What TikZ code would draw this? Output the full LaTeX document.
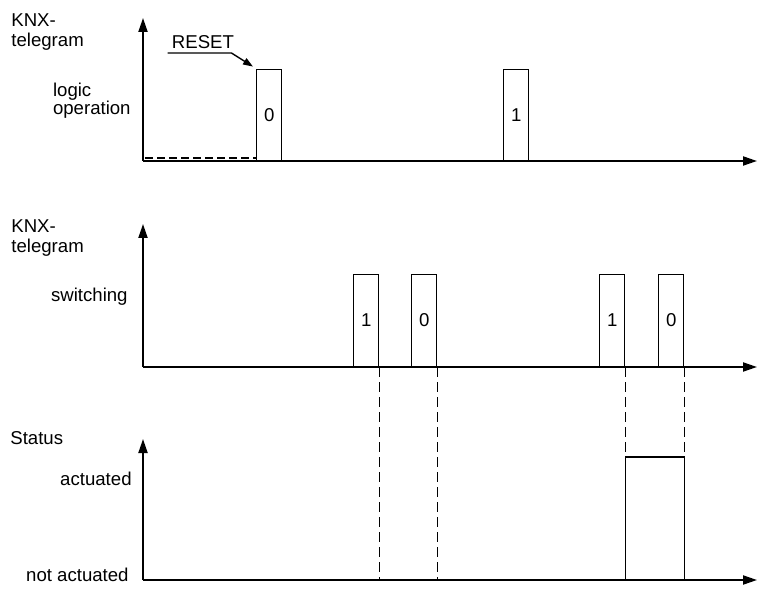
\documentclass[tikz,border=0pt]{standalone}
\usepackage{fontspec}
\setmainfont{Liberation Sans}
\usetikzlibrary{arrows.meta,positioning,calc}

\tikzset{
  axis/.style={line width=1pt,-{Triangle[length=7pt,width=4.5pt]}},
  pulse/.style={draw,line width=0.7pt,minimum width=12.5pt,minimum height=46pt,inner sep=0pt,anchor=south west},
  lbl/.style={inner sep=0pt,align=left},
  guide/.style={line width=0.7pt,dash pattern=on 5pt off 2.5pt},
  idle/.style={line width=0.6pt,dash pattern=on 4pt off 2pt},
  pointer/.style={line width=0.7pt,-{Triangle[length=5pt,width=3.5pt]}}
}

\begin{document}
\begin{tikzpicture}[x=0.5pt,y=-0.5pt,font=\fontsize{9.3}{9}\selectfont]
\useasboundingbox (0,0) rectangle (758,603);
\def\ya{161} \def\yb{367} \def\yc{580} \def\yhi{457}
% axes
\foreach \n/\y/\t in {a/\ya/18, b/\yb/224, c/\yc/439} {
  \coordinate (o\n) at (143,\y);
  \draw[axis] (o\n) -- (143,\t);
  \draw[axis] (o\n) -- (757,\y);
}
% labels
\node[lbl,anchor=north west] (ka) at (11,13) {KNX-\\[1pt]telegram};
\node[lbl,anchor=east] (lo) at (131,101) {logic\\operation};
\node[lbl,anchor=north west] (kb) at (11,219) {KNX-\\[1pt]telegram};
\node[lbl,anchor=east] (sw) at (128,297) {switching};
\node[lbl,anchor=west] (st) at (10,438) {Status};
\node[lbl,anchor=east] (ac) at (132,479) {actuated};
\node[lbl,anchor=east] (na) at (129,575) {not actuated};
% logic operation telegrams
\node[pulse,minimum height=45.5pt] (r0) at (256,\ya) {0};
\node[pulse,minimum height=45.5pt] (r1) at (503,\ya) {1};
\draw[idle] ($(oa)+(2,-3)$) -- ($(r0.south west)+(0,-3)$);
\node[inner xsep=0pt,inner ysep=2pt] (reset) at (203,42) {RESET};
\draw[pointer] ($(reset.south west)+(-4,0)$) -- ($(reset.south east)+(-3,0)$) -- ($(r0.north west)+(-3,-2)$);
% switching telegrams
\foreach \n/\x/\v in {s1/353/1, s2/411/0, s3/599/1, s4/658/0}
  \node[pulse] (\n) at (\x,\yb) {\v};
\coordinate (hi) at (0,\yhi);
\draw[guide] (s1.south east) -- (s1.south east |- oc);
\draw[guide] (s2.south east) -- (s2.south east |- oc);
\draw[guide] (s3.south east) -- (s3.south east |- hi);
\draw[guide] (s4.south east) -- (s4.south east |- hi);
% status
\draw[line width=0.7pt] (s3.south east |- oc) -- (s3.south east |- hi) -- (s4.south east |- hi) -- (s4.south east |- oc);
\end{tikzpicture}
\end{document}
